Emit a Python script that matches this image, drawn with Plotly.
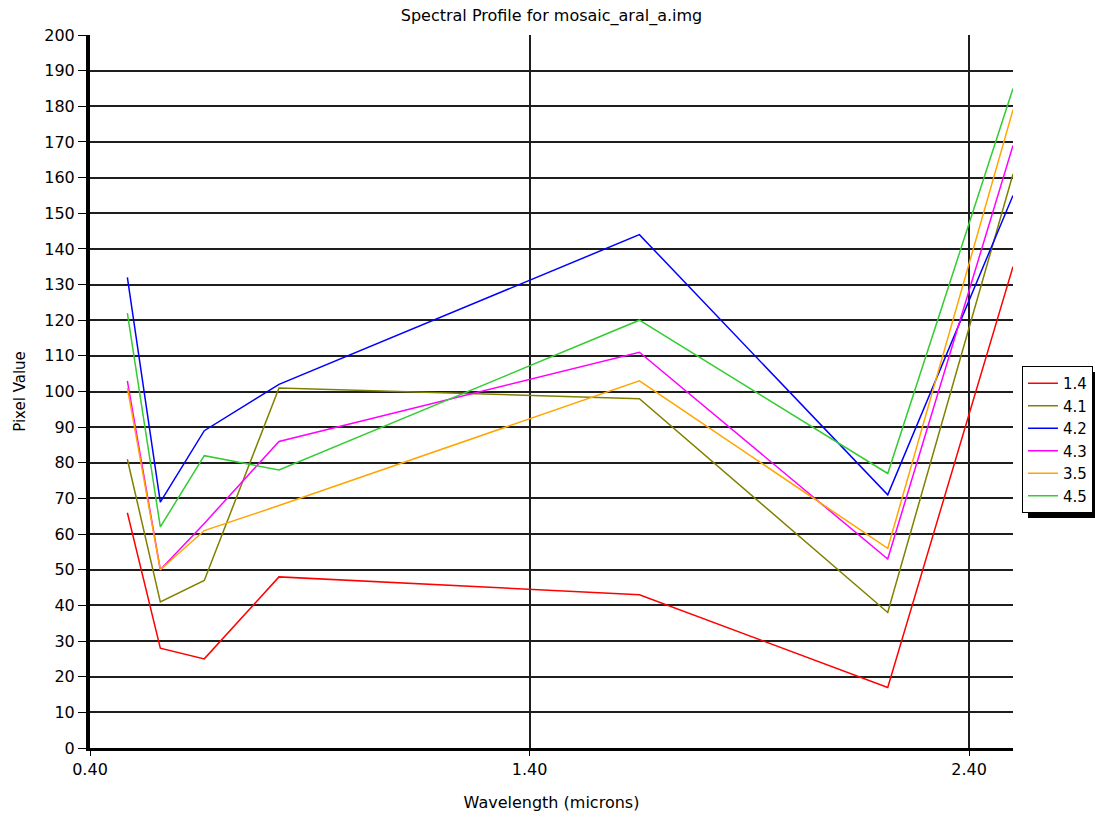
import plotly.graph_objects as go

# Wavelength (microns) of each band sample along the profile
wavelength = [0.485, 0.56, 0.66, 0.83, 1.65, 2.215, 2.50]

# Series values (pixel values)
series_names = ["1.4", "4.1", "4.2", "4.3", "3.5", "4.5"]
s_14 = [66, 28, 25, 48, 43, 17, 135]
s_41 = [81, 41, 47, 101, 98, 38, 161]
s_42 = [132, 69, 89, 102, 144, 71, 155]
s_43 = [103, 50, 63, 86, 111, 53, 169]
s_35 = [101, 50, 61, 68, 103, 56, 179]
s_45 = [122, 62, 82, 78, 120, 77, 185]
series_values = [s_14, s_41, s_42, s_43, s_35, s_45]
series_colors = ["#ff0000", "#808000", "#0000ff", "#ff00ff", "#ffa500", "#33cc33"]

x_tickvals = [0.40, 1.40, 2.40]
y_tickvals = list(range(0, 201, 10))

FONT = "DejaVu Sans"

fig = go.Figure()
for name, vals, col in zip(series_names, series_values, series_colors):
    fig.add_trace(go.Scatter(
        x=wavelength, y=vals, name=name, mode="lines",
        line=dict(color=col, width=1.5),
    ))

W, H = 1095, 817
L, R, T, B = 90, 82, 35, 69

# legend box placement (pixels), container-referenced so it doesn't push margins
leg_left, leg_top, leg_bottom = 1022, 366, 512

fig.update_layout(
    width=W, height=H,
    margin=dict(l=L, r=R, t=T, b=B, pad=0, autoexpand=False),
    paper_bgcolor="white", plot_bgcolor="white",
    font=dict(family=FONT, size=16, color="black"),
    title=dict(text="Spectral Profile for mosaic_aral_a.img",
               x=0.5, xref="paper", xanchor="center",
               y=1 - 15 / H, yref="container", yanchor="middle",
               font=dict(family=FONT, size=16, color="black")),
    xaxis=dict(
        range=[0.40, 2.50], tickvals=x_tickvals, tickformat=".2f",
        showgrid=True, gridcolor="#1e1e1e", gridwidth=2,
        showline=True, linecolor="black", linewidth=3,
        ticks="outside", ticklen=5, tickcolor="black", tickwidth=1,
        zeroline=False,
        tickfont=dict(family=FONT, size=16),
        title=dict(text="Wavelength (microns)", standoff=19,
                   font=dict(family=FONT, size=16)),
    ),
    yaxis=dict(
        range=[0, 200], tickvals=y_tickvals,
        showgrid=True, gridcolor="#1e1e1e", gridwidth=2,
        showline=True, linecolor="black", linewidth=4,
        ticks="outside", ticklen=8, tickcolor="black", tickwidth=1,
        zeroline=False,
        tickfont=dict(family=FONT, size=16),
        title=dict(text="Pixel Value", standoff=16,
                   font=dict(family=FONT, size=15)),
    ),
    legend=dict(
        x=leg_left / W, y=1 - leg_top / H, xanchor="left", yanchor="top",
        xref="container", yref="container",
        bgcolor="white", bordercolor="black", borderwidth=1,
        font=dict(family=FONT, size=15),
        itemwidth=30, tracegroupgap=0,
    ),
    showlegend=True,
)

# drop shadow behind legend box (bottom edge)
pw, ph = W - L - R, H - T - B
def px_to_paper(px, py):
    return (px - L) / pw, (H - B - py) / ph

sx0, sy0 = px_to_paper(leg_left + 6, leg_top + 6)
sx1, sy1 = px_to_paper(W + 10, leg_bottom + 6)
fig.add_shape(type="rect", xref="paper", yref="paper",
              x0=sx0, y0=sy0, x1=sx1, y1=sy1,
              fillcolor="black", line=dict(width=0), layer="below")

fig.write_html("out.html")
